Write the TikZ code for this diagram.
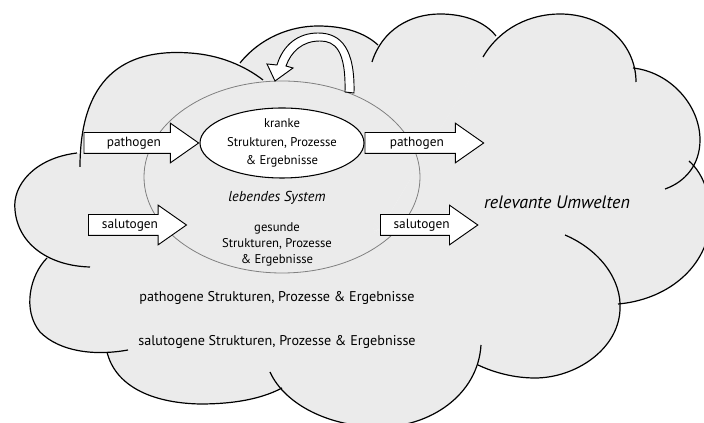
\documentclass[tikz,border=0pt]{standalone}
\usepackage{fontspec}
\setmainfont{PT Sans}
\usetikzlibrary{shapes.arrows, shapes.geometric, positioning}

\tikzset{
  cloudfill/.style={fill=black!8},
  cloudline/.style={draw=black, line width=0.9pt},
  blockarrow/.style={single arrow, draw, fill=white, line width=0.7pt,
    single arrow head extend=7pt, single arrow tip angle=70,
    inner xsep=2pt, inner ysep=3pt, text height=7pt, text depth=2pt,
    font=\fontsize{10}{11}\selectfont},
  lbl/.style={align=center, font=\fontsize{9.5}{12}\selectfont},
}

% bumps of the environment cloud
\newcommand{\cloudbumps}{%
  {(77,153) .. controls (35,158) and (12,185) .. (15,210) .. controls (18,245) and (50,266) .. (90,267)},
  {(80,167) .. controls (80,80) and (122,48) .. (190,53) .. controls (220,55) and (245,66) .. (263,80)},
  {(240,63) .. controls (260,38) and (290,26) .. (318,26) .. controls (345,26) and (365,33) .. (378,45)},
  {(372,62) .. controls (382,30) and (410,14) .. (440,14) .. controls (465,14) and (485,22) .. (496,36)},
  {(483,57) .. controls (500,28) and (530,14) .. (560,14) .. controls (605,14) and (636,45) .. (636,82)},
  {(633,68) .. controls (670,72) and (700,105) .. (700,140) .. controls (700,165) and (685,182) .. (665,189)},
  {(689,161) .. controls (705,175) and (712,200) .. (710,225) .. controls (705,270) and (665,300) .. (618,304)},
  {(565,235) .. controls (600,250) and (622,280) .. (620,310) .. controls (618,350) and (575,378) .. (535,378) .. controls (515,378) and (495,373) .. (478,365)},
  {(481,345) .. controls (478,395) and (430,427) .. (380,427) .. controls (330,427) and (285,405) .. (270,372)},
  {(107,352) .. controls (115,385) and (150,403) .. (200,404) .. controls (240,404) and (265,397) .. (282,388)},
  {(47,258) .. controls (30,275) and (22,310) .. (40,332) .. controls (60,352) and (95,356) .. (128,350)}%
}

\begin{document}
\begin{tikzpicture}[x=0.75pt, y=-0.75pt]
  \useasboundingbox (0,0) rectangle (704,423);
  \clip (0,0) rectangle (704,423);

  % cloud: fill every bump towards the middle, then stroke the bumps
  \foreach \c in \cloudbumps {
    \fill[cloudfill] \c -- (380,230) -- cycle;
  }
  \foreach \c in \cloudbumps {
    \draw[cloudline] \c;
  }

  % living system
  \node[ellipse, draw=black!50, line width=0.6pt, minimum width=207pt, minimum height=144pt, inner sep=0pt] (system) at (282,177) {};
  \node[ellipse, draw, fill=white, line width=0.8pt, minimum width=123pt, minimum height=52.5pt, inner sep=0pt] (sick) at (282,143) {};
  \node[lbl, font=\fontsize{9.5}{14}\selectfont] (sicktext) at (sick.center) {kranke\\Strukturen, Prozesse\\\& Ergebnisse};
  \node[lbl, font=\fontsize{10.8}{12}\selectfont\itshape] (systext) at (277,198) {lebendes System};
  \node[lbl] (healthy) at (277,244) {gesunde\\Strukturen, Prozesse\\\& Ergebnisse};

  % feedback loop onto the system
  \draw[fill=white, line width=0.7pt]
    (345,92) .. controls (346,50) and (335,41) .. (320,41)
    .. controls (302,41) and (291,52) .. (286,66)
    -- (293,68) -- (275,81) -- (267,64) -- (277,65)
    .. controls (283,45) and (298,33) .. (318,33)
    .. controls (342,33) and (355,50) .. (354,93) -- cycle;

  % in- and outflows
  \node[blockarrow, minimum height=86pt, anchor=tip] (pathin) at (sick.west) {pathogen};
  \node[blockarrow, minimum height=89pt, anchor=tail] (pathout) at (sick.east) {pathogen};
  \node[blockarrow, minimum height=73.5pt, anchor=tail] (saluin) at (88,225) {salutogen};
  \node[blockarrow, minimum height=73pt, anchor=tail] (saluout) at (380,225) {salutogen};

  % environment
  \node[lbl, font=\fontsize{13.5}{15}\selectfont\itshape] (env) at (557,202) {relevante Umwelten};
  \node[lbl, font=\fontsize{10.6}{12}\selectfont] (pathstruct) at (277,298) {pathogene Strukturen, Prozesse \& Ergebnisse};
  \node[lbl, font=\fontsize{10.6}{12}\selectfont] (salustruct) at (277,342) {salutogene Strukturen, Prozesse \& Ergebnisse};
\end{tikzpicture}
\end{document}
